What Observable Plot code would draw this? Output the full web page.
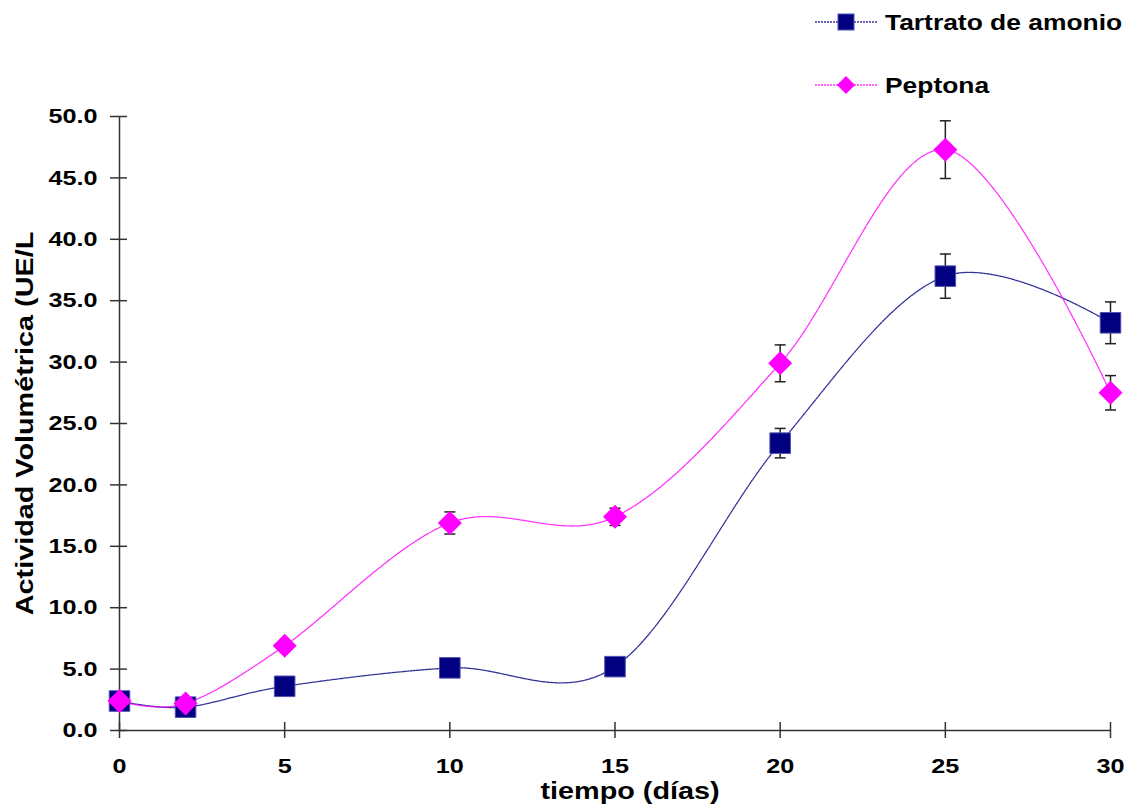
<!DOCTYPE html>
<html><head><meta charset="utf-8">
<script src="https://cdn.jsdelivr.net/npm/d3@7"></script>
<script src="https://cdn.jsdelivr.net/npm/@observablehq/plot@0.6"></script>
<style>
body{margin:0;background:#fff;}
#wrap{position:relative;width:1133px;height:807px;font-family:"Liberation Sans",Arial,sans-serif;}
#legend{position:absolute;left:0;top:0;}
</style></head><body><div id="wrap"></div>
<script>
// ---- data ----
const dias = [0, 2, 5, 10, 15, 20, 25, 30];
const tartrato = [2.4, 1.9, 3.6, 5.1, 5.2, 23.4, 37.0, 33.2];
const tartratoErr = [0, 0, 0, 0, 0, 1.2, 1.8, 1.7];
const peptona = [2.4, 2.2, 6.9, 16.9, 17.4, 29.9, 47.3, 27.5];
const peptonaErr = [0, 0, 0, 0.9, 0.7, 1.5, 2.35, 1.4];
const seriesNames = ["Tartrato de amonio", "Peptona"];
const xTicks = [0, 5, 10, 15, 20, 25, 30];
const yTicks = [0, 5, 10, 15, 20, 25, 30, 35, 40, 45, 50];
const xTitle = "tiempo (días)";
const yTitle = "Actividad Volumétrica (UE/L";

const navy = "#000080", magenta = "#FF00FF";
const tRows = dias.map((d, i) => ({x: d, y: tartrato[i], e: tartratoErr[i]}));
const pRows = dias.map((d, i) => ({x: d, y: peptona[i], e: peptonaErr[i]}));
const errRows = [...tRows, ...pRows].filter(d => d.e > 0);
const capRows = errRows.flatMap(d => [{x: d.x, y: d.y - d.e}, {x: d.x, y: d.y + d.e}]);
const capSymbol = {draw(ctx, size) { const r = Math.sqrt(size / Math.PI); ctx.moveTo(-r, 0); ctx.lineTo(r, 0); }};
const smooth = d3.curveCatmullRom.alpha(0);

const chart = Plot.plot({
  width: 1133, height: 807,
  marginTop: 116, marginRight: 23, marginBottom: 77, marginLeft: 119,
  style: {fontFamily: '"Liberation Sans", Arial, sans-serif', fontSize: "21px", fontWeight: "bold", color: "#000", background: "#fff", overflow: "visible"},
  x: {domain: [0, 30]},
  y: {domain: [0, 50]},
  marks: [
    // axis lines
    Plot.ruleX([0], {stroke: "#333", strokeWidth: 1.5}),
    Plot.ruleY([0], {stroke: "#333", strokeWidth: 1.5}),
    // crossing ticks
    Plot.axisY({ticks: yTicks, tickSize: 17, dx: 8, tickFormat: () => "", stroke: "#333", strokeWidth: 1.5, label: null}),
    Plot.axisX({ticks: xTicks, tickSize: 16, dy: -8, tickFormat: () => "", stroke: "#333", strokeWidth: 1.5, label: null}),
    // tick labels
    Plot.axisY({ticks: yTicks, tickSize: 0, tickPadding: 22, tickFormat: d3.format(".1f"), fontSize: 21, fontWeight: "bold", fill: "#000", label: null}),
    Plot.axisX({ticks: xTicks, tickSize: 0, tickPadding: 28, tickFormat: d => String(d), fontSize: 21, fontWeight: "bold", fill: "#000", label: null}),
    // titles
    Plot.text([xTitle], {text: d => d, frameAnchor: "bottom", textAnchor: "middle", dx: 15, dy: 61, fontSize: 24, fontWeight: "bold", fill: "#000", lineAnchor: "middle"}),
    Plot.text([yTitle], {text: d => d, frameAnchor: "left", textAnchor: "middle", rotate: -90, dx: -94, fontSize: 24, fontWeight: "bold", fill: "#000", lineAnchor: "middle"}),
    // smoothed lines
    Plot.line(tRows, {x: "x", y: "y", curve: smooth, stroke: navy, strokeWidth: 1.3, strokeDasharray: "2,1", strokeOpacity: 0.8}),
    Plot.line(pRows, {x: "x", y: "y", curve: smooth, stroke: magenta, strokeWidth: 1.3, strokeDasharray: "2,1", strokeOpacity: 0.8}),
    // error bars
    Plot.ruleX(errRows, {x: "x", y1: d => d.y - d.e, y2: d => d.y + d.e, stroke: "#222", strokeWidth: 1.5}),
    Plot.dot(capRows, {x: "x", y: "y", symbol: capSymbol, r: 5.5, stroke: "#222", strokeWidth: 1.5}),
    // markers
    Plot.dot(tRows, {x: "x", y: "y", symbol: "square", r: 11.6, fill: navy, stroke: "#5050b0", strokeWidth: 1}),
    Plot.dot(pRows, {x: "x", y: "y", symbol: "diamond2", r: 10.8, fill: magenta, stroke: "none"})
  ]
});
const wrap = document.getElementById("wrap");
wrap.appendChild(chart);

// legend
const leg = d3.select(wrap).append("svg").attr("id", "legend").attr("width", 1133).attr("height", 110);
const legItems = [
  {name: seriesNames[0], color: navy, cy: 22, sym: "square"},
  {name: seriesNames[1], color: magenta, cy: 85, sym: "diamond"}
];
for (const it of legItems) {
  leg.append("line").attr("x1", 815).attr("x2", 877).attr("y1", it.cy).attr("y2", it.cy)
    .attr("stroke", it.color).attr("stroke-width", 1.3).attr("stroke-opacity", 0.8).attr("stroke-dasharray", "2,1");
  if (it.sym === "square") {
    leg.append("rect").attr("x", 838).attr("y", it.cy - 8).attr("width", 16).attr("height", 16).attr("fill", it.color).attr("stroke", "#5050b0");
  } else {
    leg.append("path").attr("d", `M846,${it.cy - 9}L855,${it.cy}L846,${it.cy + 9}L837,${it.cy}Z`).attr("fill", it.color);
  }
  leg.append("text").attr("x", 885).attr("y", it.cy + 8).attr("font-size", 22).attr("font-weight", "bold")
    .attr("font-family", '"Liberation Sans", Arial, sans-serif').attr("fill", "#000").text(it.name);
}

// horizontal stretch of text to match the original rendering
wrap.querySelectorAll("text").forEach(t => {
  if (!t.textContent) return;
  const w = t.getComputedTextLength();
  if (w > 0) { t.setAttribute("textLength", w * 1.2); t.setAttribute("lengthAdjust", "spacingAndGlyphs"); }
});
</script>
</body></html>
